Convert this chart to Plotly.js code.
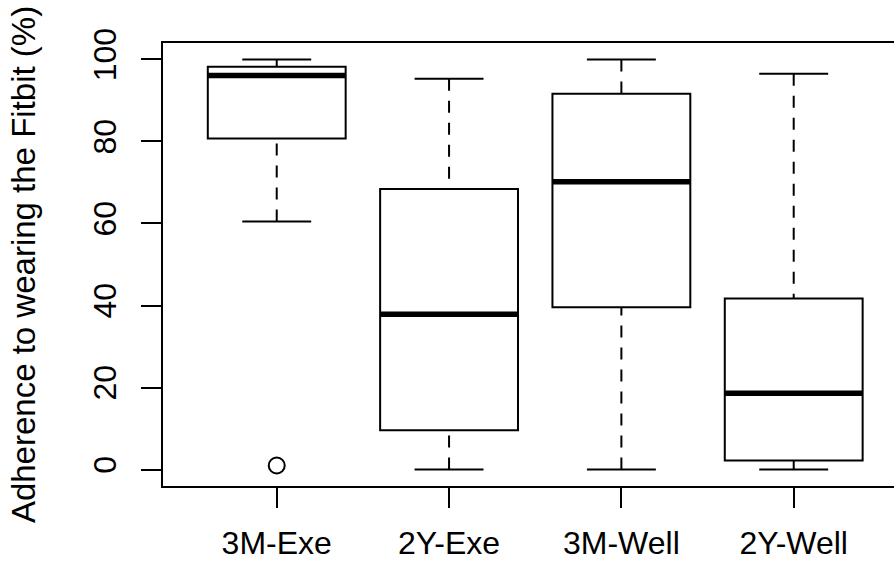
<!DOCTYPE html>
<html>
<head>
<meta charset="utf-8">
<script src="https://cdn.plot.ly/plotly-3.0.1.min.js"></script>
<style>
html, body { margin: 0; padding: 0; overflow: hidden; background: #fff; }
#chart { width: 894px; height: 563px; }
</style>
</head>
<body>
<div id="chart"></div>
<script>
// Data
const categories = ['3M-Exe', '2Y-Exe', '3M-Well', '2Y-Well'];
const lowerWhisker = [60.5, 0, 0, 0];
const q1 = [80.7, 9.6, 39.6, 2.2];
const median = [96.1, 37.9, 70.2, 18.6];
const q3 = [98.2, 68.4, 91.6, 41.7];
const upperWhisker = [100, 95.3, 100, 96.5];
const outlierGroup = ['3M-Exe'];
const outlierValue = [1];
const yTicks = [0, 20, 40, 60, 80, 100];

const pos = categories.map((c, i) => i + 1);
const boxHalf = 0.4, capHalf = 0.2;

const boxTrace = {
  type: 'box',
  x: pos,
  q1: q1, median: median, q3: q3,
  lowerfence: q1, upperfence: q3,
  width: 2 * boxHalf,
  whiskerwidth: 0,
  fillcolor: 'white',
  line: { color: 'black', width: 2 },
  boxpoints: false,
  hoverinfo: 'skip',
  showlegend: false
};

const wx = [], wy = [];
pos.forEach((p, i) => {
  wx.push(p, p, null, p, p, null);
  wy.push(lowerWhisker[i], q1[i], null, upperWhisker[i], q3[i], null);
});
const whiskerTrace = {
  type: 'scatter', mode: 'lines', x: wx, y: wy,
  line: { color: 'black', width: 2, dash: '12px,10px' },
  hoverinfo: 'skip', showlegend: false
};

const cx = [], cy = [];
pos.forEach((p, i) => {
  cx.push(p - capHalf, p + capHalf, null, p - capHalf, p + capHalf, null);
  cy.push(lowerWhisker[i], lowerWhisker[i], null, upperWhisker[i], upperWhisker[i], null);
});
const capTrace = {
  type: 'scatter', mode: 'lines', x: cx, y: cy,
  line: { color: 'black', width: 2 },
  hoverinfo: 'skip', showlegend: false
};

const mx = [], my = [];
pos.forEach((p, i) => {
  mx.push(p - boxHalf, p + boxHalf, null);
  my.push(median[i], median[i], null);
});
const medianTrace = {
  type: 'scatter', mode: 'lines', x: mx, y: my,
  line: { color: 'black', width: 5.5 },
  hoverinfo: 'skip', showlegend: false
};

const outlierTrace = {
  type: 'scatter', mode: 'markers',
  x: outlierGroup.map(g => categories.indexOf(g) + 1),
  y: outlierValue,
  marker: { symbol: 'circle-open', size: 16, color: 'black', line: { width: 2, color: 'black' } },
  hoverinfo: 'skip', showlegend: false
};

const font = { family: '"Liberation Sans", Arial, Helvetica, sans-serif', size: 32, color: 'black' };
const titleFont = { family: '"Liberation Sans", Arial, Helvetica, sans-serif', size: 33, color: 'black' };

const layout = {
  width: 894, height: 563,
  margin: { l: 163, r: 0, t: 43, b: 77, pad: 0 },
  paper_bgcolor: 'white', plot_bgcolor: 'white',
  font: font,
  showlegend: false,
  xaxis: {
    range: [0.34, 4.582],
    tickvals: pos, ticktext: categories,
    ticks: 'outside', ticklen: 20, tickwidth: 2, tickcolor: 'black',
    showline: true, mirror: true, linewidth: 2, linecolor: 'black',
    showgrid: false, zeroline: false,
    ticklabelstandoff: 8,
    tickfont: font
  },
  yaxis: {
    range: [-4, 104],
    tickvals: yTicks,
    ticktext: yTicks.map(String),
    tickangle: -90,
    ticks: 'outside', ticklen: 20, tickwidth: 2, tickcolor: 'black',
    showline: true, mirror: false, linewidth: 2, linecolor: 'black',
    showgrid: false, zeroline: false,
    ticklabelstandoff: 12,
    tickfont: font,
    title: { text: 'Adherence to wearing the Fitbit (%)', font: titleFont, standoff: 42 },
    automargin: false
  }
};

Plotly.newPlot('chart', [boxTrace, whiskerTrace, capTrace, medianTrace, outlierTrace], layout, { staticPlot: true, displayModeBar: false });
</script>
</body>
</html>
